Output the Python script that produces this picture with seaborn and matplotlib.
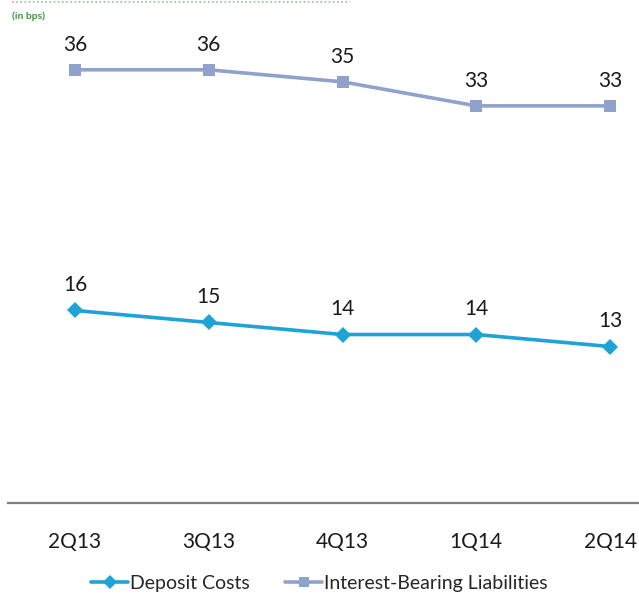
import matplotlib
matplotlib.use("Agg")
import matplotlib.pyplot as plt
import seaborn as sns
import pandas as pd

quarters = ["2Q13", "3Q13", "4Q13", "1Q14", "2Q14"]
deposit_costs = [16, 15, 14, 14, 13]
ibl_costs = [36, 36, 35, 33, 33]

series_names = ["Deposit Costs", "Interest-Bearing Liabilities"]
series_colors = ["#1FA2D6", "#8FA2CC"]
series_markers = ["D", "s"]

sns.set_theme(style="white")
plt.rcParams["font.family"] = ["Lato", "DejaVu Sans"]

df = pd.DataFrame({
    "quarter": quarters * 2,
    "pos": list(range(len(quarters))) * 2,
    "value": deposit_costs + ibl_costs,
    "series": [series_names[0]] * len(quarters) + [series_names[1]] * len(quarters),
})

fig = plt.figure(figsize=(6.39, 6.03), dpi=100)
ax = fig.add_axes([8 / 639, 100 / 603, 669 / 639, 503 / 603])

sns.lineplot(
    data=df, x="pos", y="value", hue="series", style="series",
    palette=dict(zip(series_names, series_colors)),
    markers=dict(zip(series_names, series_markers)),
    dashes=False, linewidth=2.6, markersize=8, markeredgewidth=0,
    ax=ax, legend=False,
)

# value labels above each point
for vals in (deposit_costs, ibl_costs):
    for i, v in enumerate(vals):
        ax.annotate(str(v), (i, v), xytext=(0, 11), textcoords="offset points",
                    ha="center", va="bottom", fontsize=15, color="#1A1A1A")

ax.set_xlim(-0.5, 4.5)
ax.set_ylim(0, 41.8)
ax.set_xticks([])
ax.set_yticks([])
ax.set_xlabel("")
ax.set_ylabel("")
for s in ("top", "right", "left"):
    ax.spines[s].set_visible(False)
ax.spines["bottom"].set_color("#7F7F7F")
ax.spines["bottom"].set_linewidth(1.6)

# category labels below the axis
for i, q in enumerate(quarters):
    ax.annotate(q, (i, 0), xytext=(0, -21), textcoords="offset points",
                ha="center", va="top", fontsize=15, color="#1A1A1A",
                annotation_clip=False)

# legend
handles = [
    plt.Line2D([], [], color=c, marker=m, linewidth=2.6, markersize=7,
               markeredgewidth=0)
    for c, m in zip(series_colors, series_markers)
]
fig.legend(handles, series_names, loc="center", bbox_to_anchor=(0.5, 20 / 603),
           ncol=2, frameon=False, fontsize=14, handlelength=1.9,
           handletextpad=0.1, columnspacing=1.8)

# unit note and dotted rule at the top
fig.add_artist(plt.Line2D([12 / 639, 350 / 639], [601 / 603, 601 / 603],
                          color="#9DB89A", linewidth=1.2, linestyle=(0, (1, 1.5))))
fig.text(12 / 639, 587 / 603, "(in bps)", fontsize=7.5, color="#3A9A3A",
         ha="left", va="center", fontweight="bold")

fig.savefig("out.png", dpi=100)
